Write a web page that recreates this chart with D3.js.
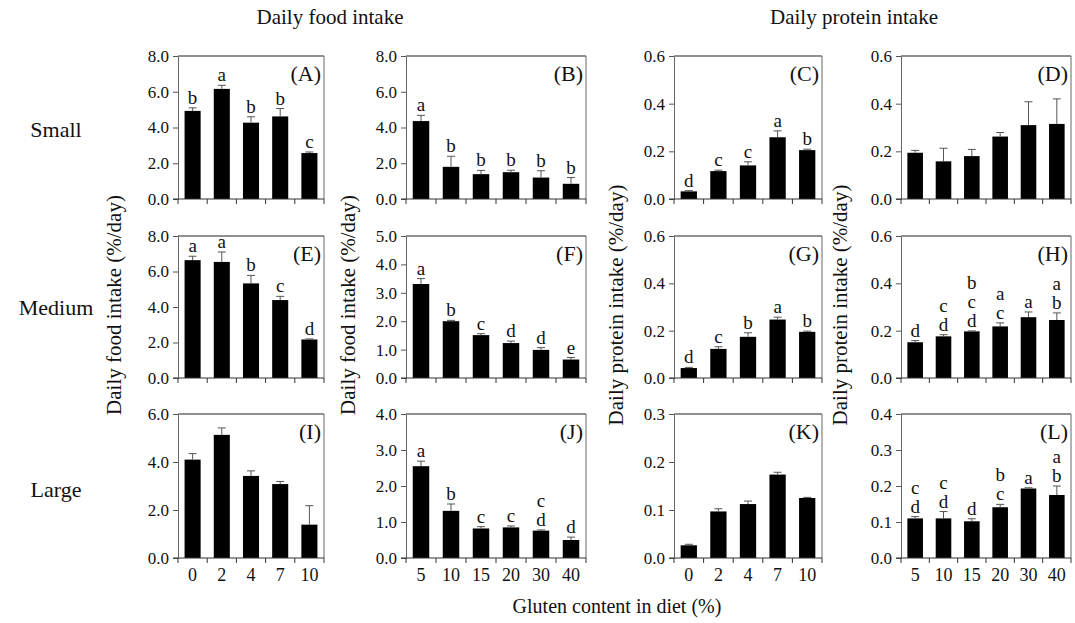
<!DOCTYPE html>
<html><head><meta charset="utf-8">
<script src="https://cdn.jsdelivr.net/npm/d3@7"></script>
<style>body{margin:0;background:#fff}svg{display:block}</style>
</head><body>
<script>
// ---- categories ----
const catsLowGluten = ["0", "2", "4", "7", "10"];
const catsHighGluten = ["5", "10", "15", "20", "30", "40"];

// ---- tick values ----
const ticksFood8 = [0, 2, 4, 6, 8];
const ticksFood5 = [0, 1, 2, 3, 4, 5];
const ticksFood6 = [0, 2, 4, 6];
const ticksFood4 = [0, 1, 2, 3, 4];
const ticksProt06 = [0, 0.2, 0.4, 0.6];
const ticksProt03 = [0, 0.1, 0.2, 0.3];
const ticksProt04 = [0, 0.1, 0.2, 0.3, 0.4];

// ---- series: mean and mean+SE ----
const meanA = [4.93, 6.16, 4.27, 4.62, 2.57];
const upA   = [5.10, 6.36, 4.60, 5.06, 2.63];
const letA  = [["b"], ["a"], ["b"], ["b"], ["c"]];

const meanB = [4.36, 1.80, 1.39, 1.50, 1.20, 0.85];
const upB   = [4.68, 2.39, 1.60, 1.61, 1.58, 1.20];
const letB  = [["a"], ["b"], ["b"], ["b"], ["b"], ["b"]];

const meanC = [0.032, 0.117, 0.141, 0.259, 0.205];
const upC   = [0.035, 0.121, 0.156, 0.286, 0.209];
const letC  = [["d"], ["c"], ["c"], ["a"], ["b"]];

const meanD = [0.194, 0.158, 0.180, 0.262, 0.310, 0.315];
const upD   = [0.204, 0.213, 0.208, 0.279, 0.408, 0.420];
const letD  = [[], [], [], [], [], []];

const meanE = [6.64, 6.54, 5.33, 4.39, 2.17];
const upE   = [6.86, 7.10, 5.78, 4.60, 2.20];
const letE  = [["a"], ["a"], ["b"], ["c"], ["d"]];

const meanF = [3.31, 2.00, 1.51, 1.23, 0.99, 0.65];
const upF   = [3.50, 2.03, 1.56, 1.30, 1.07, 0.72];
const letF  = [["a"], ["b"], ["c"], ["d"], ["d"], ["e"]];

const meanG = [0.042, 0.123, 0.174, 0.247, 0.195];
const upG   = [0.045, 0.132, 0.191, 0.257, 0.198];
const letG  = [["d"], ["c"], ["b"], ["a"], ["b"]];

const meanH = [0.151, 0.176, 0.197, 0.218, 0.257, 0.245];
const upH   = [0.158, 0.183, 0.199, 0.233, 0.279, 0.275];
const letH  = [["d"], ["c", "d"], ["b", "c", "d"], ["a", "c"], ["a"], ["a", "b"]];

const meanI = [4.10, 5.13, 3.42, 3.08, 1.39];
const upI   = [4.35, 5.42, 3.63, 3.19, 2.18];
const letI  = [[], [], [], [], []];

const meanJ = [2.55, 1.31, 0.82, 0.85, 0.76, 0.50];
const upJ   = [2.69, 1.50, 0.87, 0.89, 0.78, 0.58];
const letJ  = [["a"], ["b"], ["c"], ["c"], ["c", "d"], ["d"]];

const meanK = [0.0265, 0.097, 0.1124, 0.1738, 0.125];
const upK   = [0.0286, 0.1026, 0.1186, 0.1786, 0.1263];
const letK  = [[], [], [], [], []];

const meanL = [0.110, 0.110, 0.102, 0.141, 0.193, 0.175];
const upL   = [0.115, 0.129, 0.109, 0.149, 0.195, 0.200];
const letL  = [["c", "d"], ["c", "d"], ["d"], ["b", "c"], ["a"], ["a", "b"]];

const panelNames = ["A","B","C","D","E","F","G","H","I","J","K","L"];
const panelCats  = [catsLowGluten, catsHighGluten, catsLowGluten, catsHighGluten,
                    catsLowGluten, catsHighGluten, catsLowGluten, catsHighGluten,
                    catsLowGluten, catsHighGluten, catsLowGluten, catsHighGluten];
const panelTicks = [ticksFood8, ticksFood8, ticksProt06, ticksProt06,
                    ticksFood8, ticksFood5, ticksProt06, ticksProt06,
                    ticksFood6, ticksFood4, ticksProt03, ticksProt04];
const panelMeans = [meanA, meanB, meanC, meanD, meanE, meanF, meanG, meanH, meanI, meanJ, meanK, meanL];
const panelUps   = [upA, upB, upC, upD, upE, upF, upG, upH, upI, upJ, upK, upL];
const panelLets  = [letA, letB, letC, letD, letE, letF, letG, letH, letI, letJ, letK, letL];

const rowLabels = ["Small", "Medium", "Large"];
const columnTitles = ["Daily food intake", "Daily protein intake"];
const yTitles = ["Daily food intake (%/day)", "Daily food intake (%/day)", "Daily protein intake (%/day)", "Daily protein intake (%/day)"];
const xTitle = "Gluten content in diet (%)";

// ---- layout ----
const FONT = '"Liberation Serif", "Times New Roman", "DejaVu Serif", serif';
const W = 1075, H = 623;
const colL = [178, 406, 674, 901];
const colR = [324, 586, 822, 1071];
const rowT = [56, 236, 414];
const rowB = [199, 378, 558];

const svg = d3.select("body").append("svg").attr("width", W).attr("height", H)
  .style("font-family", FONT);

function txt(sel) { return sel.style("font-family", FONT).attr("fill", "#111"); }

panelNames.forEach((name, i) => {
  const r = Math.floor(i / 4), c = i % 4;
  const cats = panelCats[i], ticks = panelTicks[i];
  const left = colL[c], right = colR[c], top = rowT[r], bottom = rowB[r];
  const x = d3.scaleBand().domain(cats).range([left, right]).paddingInner(0.45).paddingOuter(0.225);
  const y = d3.scaleLinear().domain([0, d3.max(ticks)]).range([bottom, top]);
  const g = svg.append("g");
  const data = cats.map((k, j) => ({k, m: panelMeans[i][j], u: panelUps[i][j], l: panelLets[i][j]}));

  // frame
  g.append("line").attr("x1", left).attr("x2", right).attr("y1", top).attr("y2", top).attr("stroke", "#222").attr("stroke-width", 1.2);
  g.append("line").attr("x1", right).attr("x2", right).attr("y1", top).attr("y2", bottom).attr("stroke", "#666").attr("stroke-width", 1);

  // bars
  g.selectAll("rect.bar").data(data).join("rect")
    .attr("x", d => x(d.k)).attr("width", x.bandwidth())
    .attr("y", d => y(d.m)).attr("height", d => y(0) - y(d.m)).attr("fill", "#000");
  // error bars
  const cx = d => x(d.k) + x.bandwidth() / 2;
  g.selectAll("line.err").data(data).join("line")
    .attr("x1", cx).attr("x2", cx).attr("y1", d => y(d.m)).attr("y2", d => y(d.u))
    .attr("stroke", "#555").attr("stroke-width", 1);
  g.selectAll("line.cap").data(data).join("line")
    .attr("x1", d => cx(d) - 4).attr("x2", d => cx(d) + 4).attr("y1", d => y(d.u)).attr("y2", d => y(d.u))
    .attr("stroke", "#555").attr("stroke-width", 1);

  // letters (listed top to bottom)
  data.forEach(d => {
    const n = d.l.length;
    d.l.forEach((t, q) => {
      txt(g.append("text")).attr("x", cx(d)).attr("y", y(d.u) - 4 - (n - 1 - q) * 19)
        .attr("text-anchor", "middle").attr("font-size", 19).text(t);
    });
  });

  // y axis
  const ya = g.append("g").attr("transform", `translate(${left},0)`)
    .call(d3.axisLeft(y).tickValues(ticks).tickFormat(d3.format(".1f")).tickSize(5).tickSizeOuter(0).tickPadding(4));
  ya.attr("font-family", null).attr("font-size", null);
  txt(ya.selectAll("text")).attr("font-size", 17);
  ya.select(".domain").attr("stroke", "#666");
  ya.selectAll(".tick line").attr("stroke", "#555");

  // x axis baseline and boundary ticks
  const step = x.step(), gap = (step - x.bandwidth()) / 2;
  g.append("line").attr("x1", left - 5).attr("x2", right).attr("y1", bottom).attr("y2", bottom).attr("stroke", "#333").attr("stroke-width", 1.2);
  const bounds = cats.map(k => x(k) - gap).concat([x(cats[cats.length - 1]) + x.bandwidth() + gap]);
  g.selectAll("line.bt").data(bounds).join("line")
    .attr("x1", d => d).attr("x2", d => d).attr("y1", bottom).attr("y2", bottom + 5).attr("stroke", "#333");
  if (r === 2) {
    txt(g.selectAll("text.xl").data(cats).join("text"))
      .attr("x", d => x(d) + x.bandwidth() / 2).attr("y", bottom + 23)
      .attr("text-anchor", "middle").attr("font-size", 18).text(d => d);
  }

  // panel label
  txt(g.append("text")).attr("x", right - 3).attr("y", top + 25).attr("text-anchor", "end").attr("font-size", 22).text(`(${name})`);
});

// column titles
txt(svg.append("text")).attr("x", 330).attr("y", 24).attr("text-anchor", "middle").attr("font-size", 21).text(columnTitles[0]);
txt(svg.append("text")).attr("x", 854).attr("y", 24).attr("text-anchor", "middle").attr("font-size", 21).text(columnTitles[1]);

// row labels
const rowLabelY = [137, 315, 497];
rowLabels.forEach((t, k) => {
  txt(svg.append("text")).attr("x", 56).attr("y", rowLabelY[k]).attr("text-anchor", "middle").attr("font-size", 22).text(t);
});

// y titles
const yTitleX = [121, 355, 623, 847];
yTitles.forEach((t, k) => {
  txt(svg.append("text")).attr("transform", `translate(${yTitleX[k]},305) rotate(-90)`)
    .attr("text-anchor", "middle").attr("font-size", 21).text(t);
});

// x title
txt(svg.append("text")).attr("x", 617).attr("y", 613).attr("text-anchor", "middle").attr("font-size", 20).text(xTitle);
</script>
</body></html>
